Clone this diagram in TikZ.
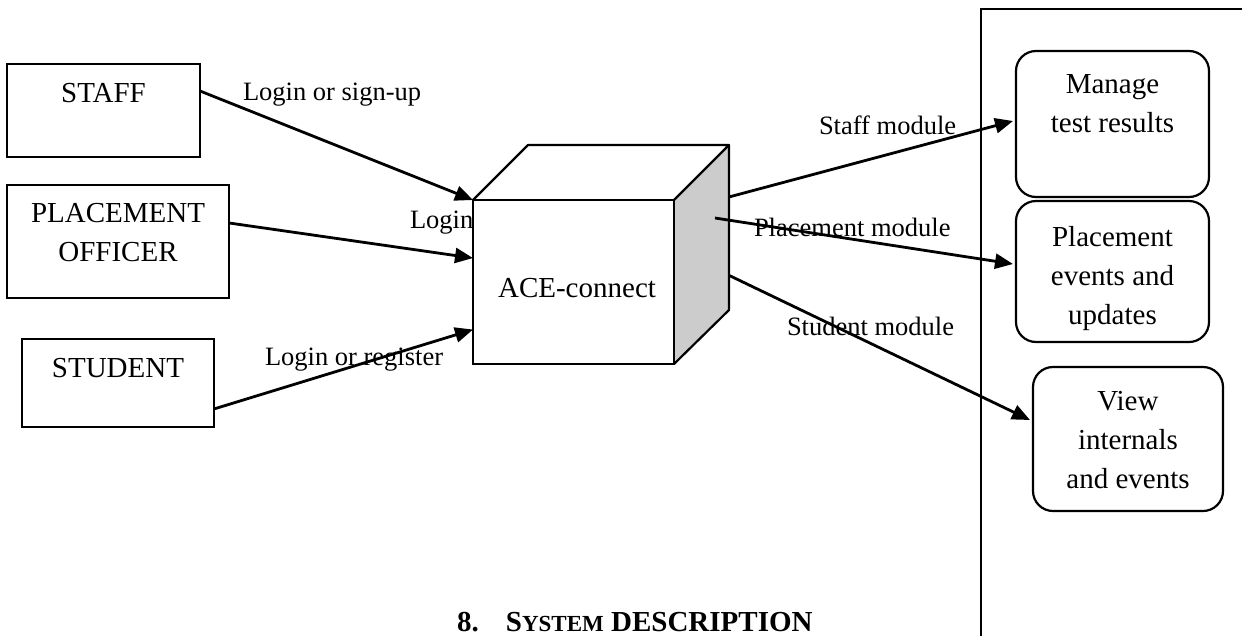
\documentclass[tikz,border=0pt]{standalone}
\usepackage{fontspec}
\setmainfont{Liberation Serif}
\usetikzlibrary{arrows.meta,calc}
\definecolor{faceg}{RGB}{204,204,204}
\begin{document}
\begin{tikzpicture}[x=1pt,y=-1pt,
  box/.style={draw, line width=2.2pt, rectangle, inner sep=0pt, outer sep=0pt},
  rbox/.style={box, rounded corners=20pt},
  txt/.style={font=\fontsize{29}{39}\selectfont, inner sep=0pt, outer sep=0pt, align=center},
  lbl/.style={font=\fontsize{26.5}{30}\selectfont, inner sep=0pt, outer sep=0pt, anchor=base west},
  arr/.style={line width=2.8pt, -{Triangle[length=18pt,width=15pt]}},
  edge3d/.style={line width=2.2pt, line join=round}
]
\useasboundingbox (0,0) rectangle (1242,635);

% left boxes
\node[box, minimum width=193pt, minimum height=93pt] (staff) at (103.5,110.5) {};
\node[txt, anchor=base] (stafftxt) at (103.5,102) {STAFF};
\node[box, minimum width=222pt, minimum height=113pt] (po) at (118,241.5) {};
\node[txt, anchor=north] (potxt) at (118,203) {PLACEMENT\\OFFICER};
\node[box, minimum width=192pt, minimum height=88pt] (student) at (118,383) {};
\node[txt, anchor=base] (studenttxt) at (118,377) {STUDENT};

% cube
\coordinate (ctl) at (528,145);
\coordinate (ctr) at (729,145);
\coordinate (cbr) at (729,310);
\node[box, minimum width=201pt, minimum height=164pt] (cube) at (573.5,282) {};
\fill[faceg] (cube.north east) -- (ctr) -- (cbr) -- (cube.south east) -- cycle;
\draw[edge3d] (cube.north west) -- (ctl) -- (ctr) -- (cube.north east);
\draw[edge3d] (ctr) -- (cbr) -- (cube.south east);
\draw[edge3d] (cube.north west) rectangle (cube.south east);
\node[txt, anchor=base] (cubetxt) at (577,297) {ACE-connect};

% right panel
\coordinate (pbot) at (981,636);
\coordinate (ptop) at (981,9);
\coordinate (pright) at (1243,9);
\draw[line width=2.2pt] (pbot) -- (ptop) -- (pright);

% right boxes
\node[rbox, minimum width=193pt, minimum height=146pt] (manage) at (1112.5,124) {};
\node[txt, anchor=north] (managetxt) at (1112.5,75) {Manage\\test results};
\node[rbox, minimum width=193pt, minimum height=141pt] (pev) at (1112.5,271.5) {};
\node[txt, anchor=north] (pevtxt) at (1112.5,226) {Placement\\events and\\updates};
\node[rbox, minimum width=190pt, minimum height=144pt] (view) at (1128,439) {};
\node[txt, anchor=north] (viewtxt) at (1128,391) {View\\internals\\and events};

% incoming arrows
\draw[arr] ($(staff.north east)!0.29!(staff.south east)$) -- (cube.north west);
\draw[arr] ($(po.north east)!0.336!(po.south east)$) -- ($(cube.north west)!0.354!(cube.south west)$);
\draw[arr] ($(student.north east)!0.795!(student.south east)$) -- ($(cube.north west)!0.79!(cube.south west)$);

% outgoing arrows
\coordinate (pmstart) at (715,218);
\draw[arr] ($(ctr)!0.315!(cbr)$) -- ([xshift=-3pt,yshift=3pt]manage.west);
\draw[arr] (pmstart) -- ([xshift=-3pt,yshift=7.5pt]pev.west);
\draw[arr] ($(ctr)!0.79!(cbr)$) -- ([xshift=-3pt,yshift=19pt]view.west);

% labels
\node[lbl] (l1) at (243,100) {Login or sign-up};
\node[lbl] (l2) at (410,228) {Login};
\node[lbl] (l3) at (265,365) {Login or register};
\node[lbl] (l4) at (819,134) {Staff module};
\node[lbl] (l5) at (754,236) {Placement module};
\node[lbl] (l6) at (787,335) {Student module};

% title
\node[inner sep=0pt, anchor=base west, font=\bfseries\fontsize{29}{33}\selectfont] (title) at (457,631)
  {8.\hspace{27pt}S{\fontsize{23}{26}\selectfont YSTEM} DESCRIPTION};
\end{tikzpicture}
\end{document}
